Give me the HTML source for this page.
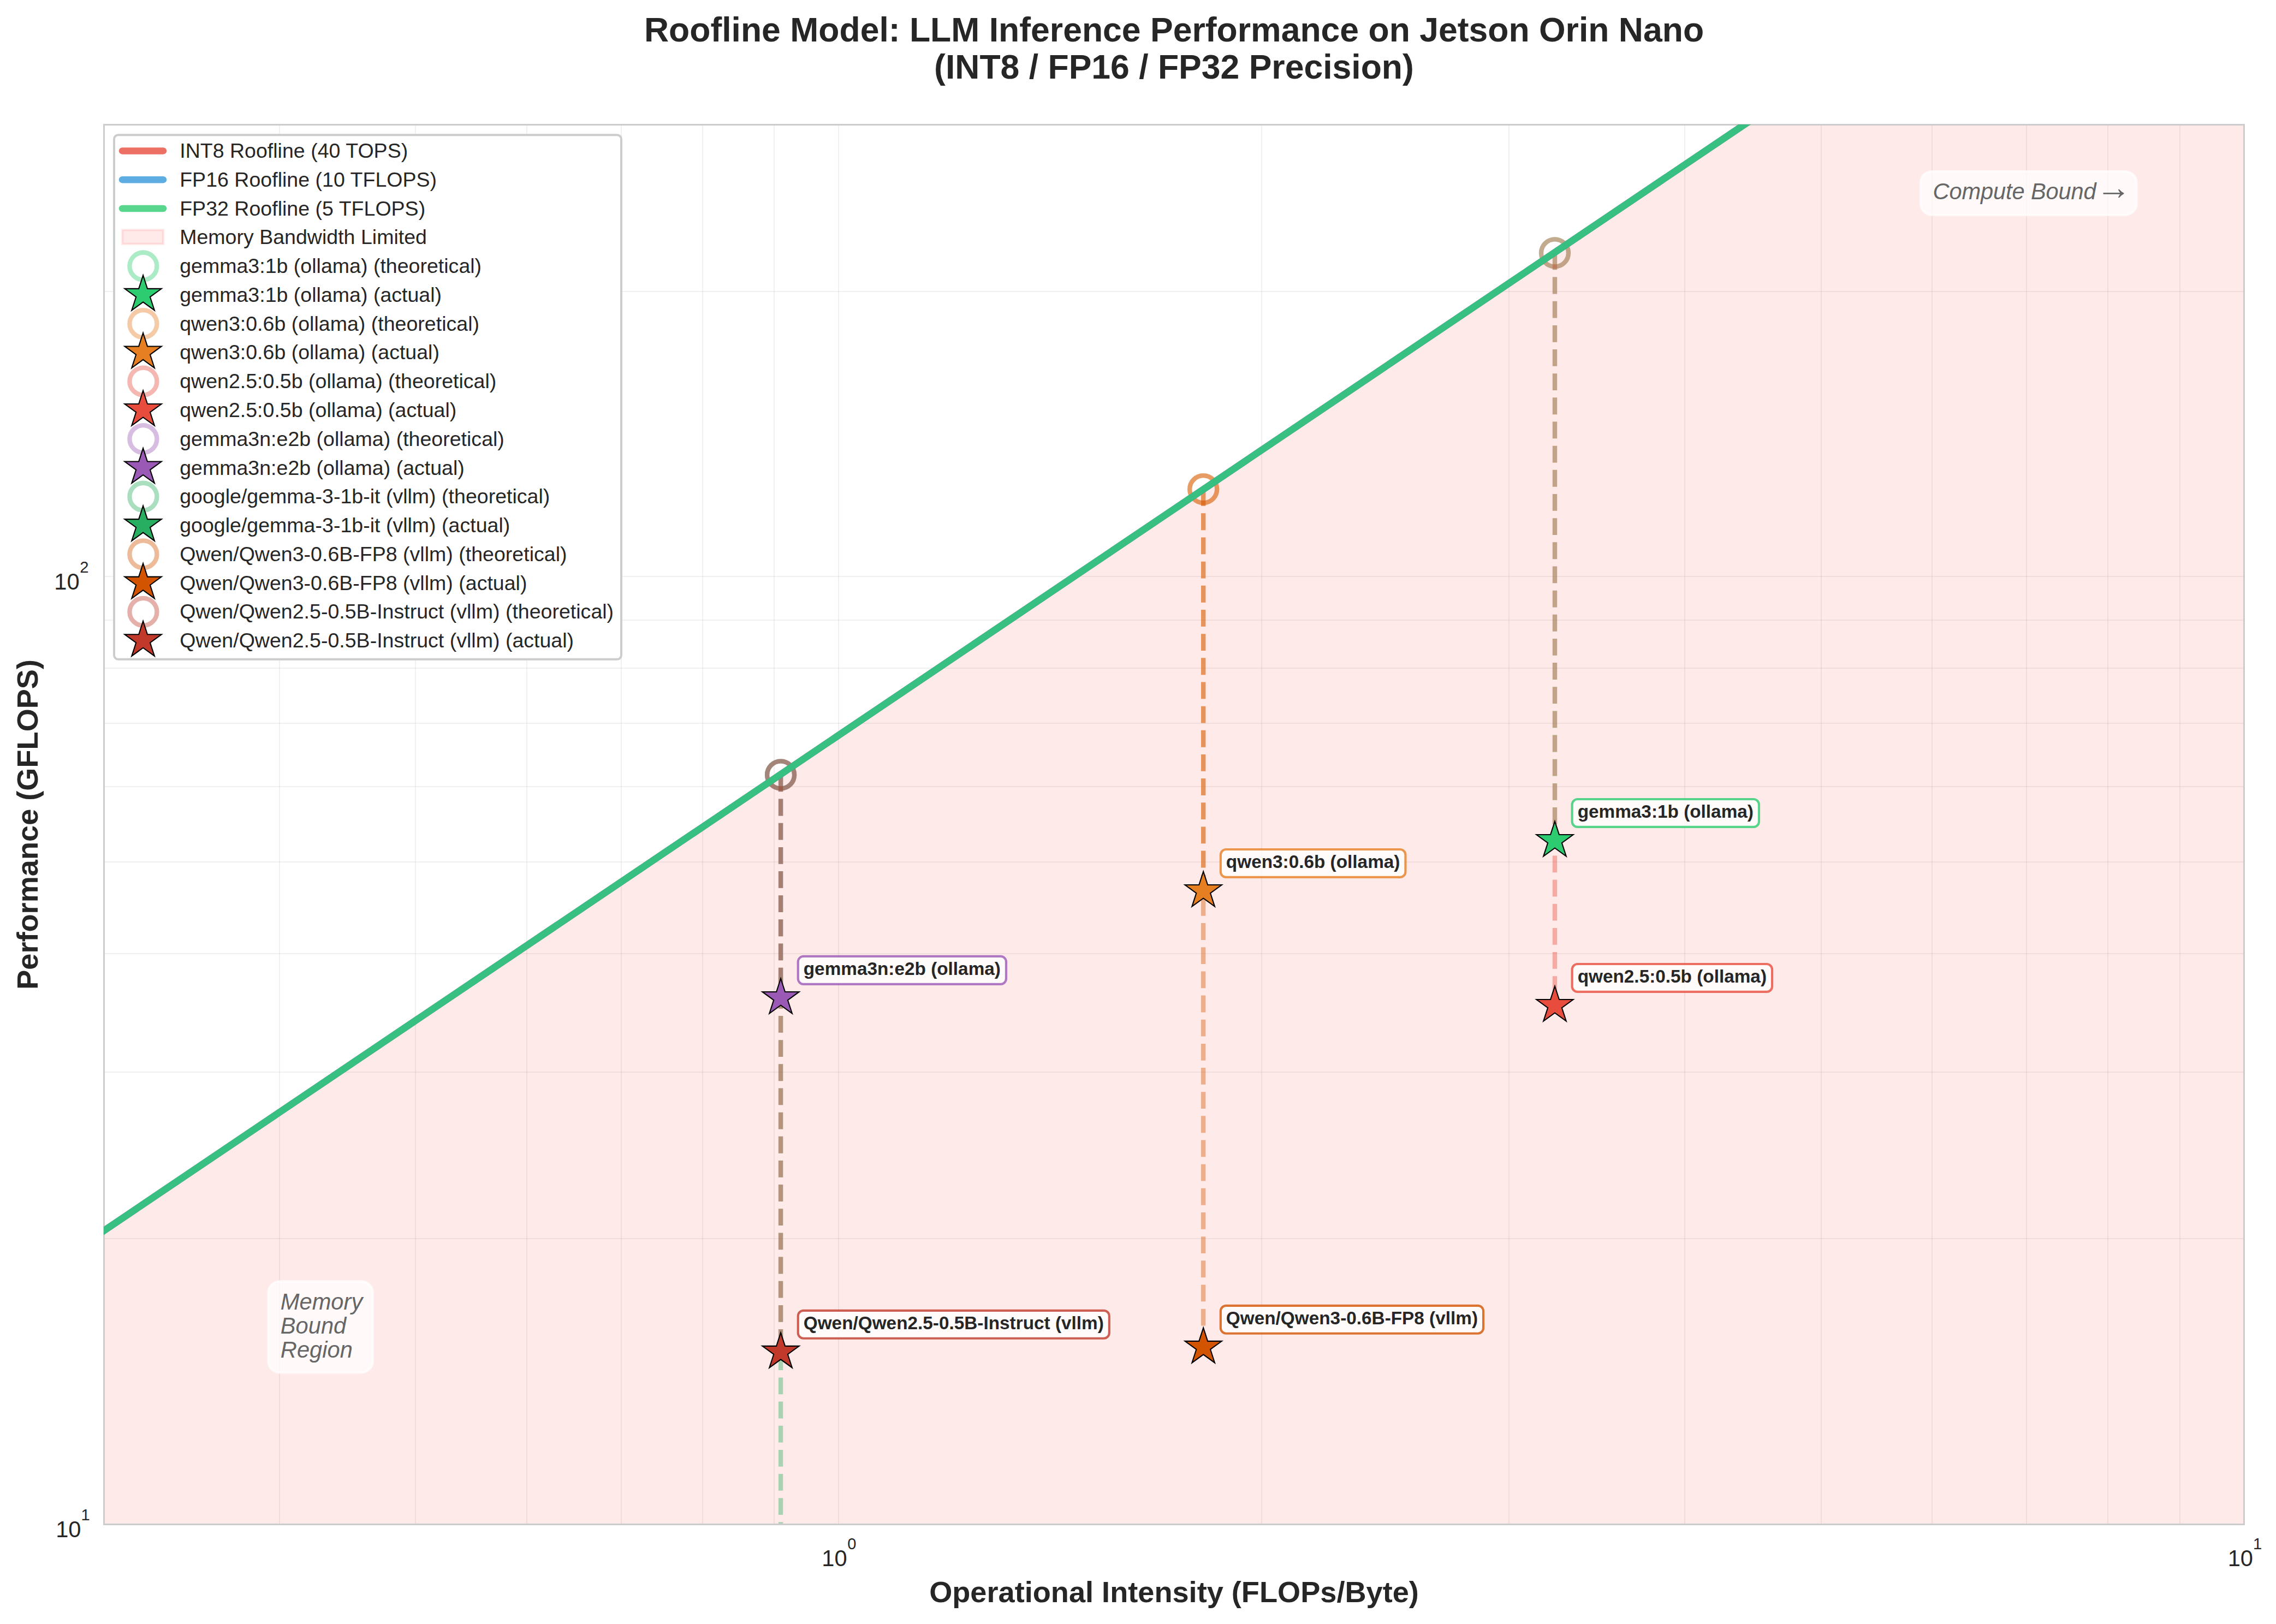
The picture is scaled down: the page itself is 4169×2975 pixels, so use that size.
<!DOCTYPE html>
<html><head><meta charset="utf-8"><title>Roofline Model</title><style>html,body{margin:0;padding:0;background:#fff}svg{display:block}</style></head><body>
<svg width="4169" height="2975" viewBox="0 0 4169 2975" font-family="'Liberation Sans', sans-serif" fill="#262626">
<defs><clipPath id="ax"><rect x="190" y="227.9" width="3920.4700000000003" height="2564.0499999999997"/></clipPath></defs>
<rect width="4169" height="2975" fill="#fff"/>
<path d="M512 227.95V2791.95M761 227.95V2791.95M965 227.95V2791.95M1138 227.95V2791.95M1287 227.95V2791.95M1418 227.95V2791.95M1536 227.95V2791.95M2311 227.95V2791.95M2764 227.95V2791.95M3086 227.95V2791.95M3336 227.95V2791.95M3539 227.95V2791.95M3712 227.95V2791.95M3861 227.95V2791.95M3993 227.95V2791.95" stroke="#ccc" stroke-opacity="0.3" stroke-width="2" fill="none"/>
<path d="M190.27 2269H4110.47M190.27 1964H4110.47M190.27 1747H4110.47M190.27 1579H4110.47M190.27 1441H4110.47M190.27 1325H4110.47M190.27 1224H4110.47M190.27 1136H4110.47M190.27 1056H4110.47M190.27 534H4110.47" stroke="#ccc" stroke-opacity="0.3" stroke-width="2" fill="none"/>
<g clip-path="url(#ax)">
<path d="M190.27 2791.95L190.27 2254.49L3195.63 227.95L4110.47 227.95L4110.47 2791.95Z" fill="#ff0000" fill-opacity="0.082"/>
<circle cx="2848.0" cy="463.4" r="25" fill="none" stroke="#2ecc71" stroke-opacity="0.4" stroke-width="8.33"/>
<path d="M2848.0 463.4V1539.5" stroke="#2ecc71" stroke-opacity="0.4" stroke-width="8.33" stroke-dasharray="30.83 13.33" fill="none"/>
<circle cx="2204.2" cy="896.2" r="25" fill="none" stroke="#e67e22" stroke-opacity="0.4" stroke-width="8.33"/>
<path d="M2204.2 896.2V1631.5" stroke="#e67e22" stroke-opacity="0.4" stroke-width="8.33" stroke-dasharray="30.83 13.33" fill="none"/>
<circle cx="2848.0" cy="463.4" r="25" fill="none" stroke="#e74c3c" stroke-opacity="0.4" stroke-width="8.33"/>
<path d="M2848.0 463.4V1841.5" stroke="#e74c3c" stroke-opacity="0.4" stroke-width="8.33" stroke-dasharray="30.83 13.33" fill="none"/>
<circle cx="1430.1" cy="1419.4" r="25" fill="none" stroke="#9b59b6" stroke-opacity="0.4" stroke-width="8.33"/>
<path d="M1430.1 1419.4V1827.4" stroke="#9b59b6" stroke-opacity="0.4" stroke-width="8.33" stroke-dasharray="30.83 13.33" fill="none"/>
<circle cx="1430.1" cy="1419.4" r="25" fill="none" stroke="#27ae60" stroke-opacity="0.4" stroke-width="8.33"/>
<path d="M1430.1 1419.4V3200.0" stroke="#27ae60" stroke-opacity="0.4" stroke-width="8.33" stroke-dasharray="30.83 13.33" fill="none"/>
<circle cx="2204.2" cy="896.2" r="25" fill="none" stroke="#d35400" stroke-opacity="0.4" stroke-width="8.33"/>
<path d="M2204.2 896.2V2467.3" stroke="#d35400" stroke-opacity="0.4" stroke-width="8.33" stroke-dasharray="30.83 13.33" fill="none"/>
<circle cx="1430.1" cy="1419.4" r="25" fill="none" stroke="#c0392b" stroke-opacity="0.4" stroke-width="8.33"/>
<path d="M1430.1 1419.4V2476.3" stroke="#c0392b" stroke-opacity="0.4" stroke-width="8.33" stroke-dasharray="30.83 13.33" fill="none"/>
</g>
<polygon points="2848.00,1504.60 2855.95,1529.06 2881.67,1529.06 2860.86,1544.18 2868.81,1568.64 2848.00,1553.52 2827.19,1568.64 2835.14,1544.18 2814.33,1529.06 2840.05,1529.06" fill="#2ecc71" stroke="#000" stroke-width="2.08" stroke-linejoin="miter"/>
<polygon points="2204.20,1596.60 2212.15,1621.06 2237.87,1621.06 2217.06,1636.18 2225.01,1660.64 2204.20,1645.52 2183.39,1660.64 2191.34,1636.18 2170.53,1621.06 2196.25,1621.06" fill="#e67e22" stroke="#000" stroke-width="2.08" stroke-linejoin="miter"/>
<polygon points="2848.00,1806.60 2855.95,1831.06 2881.67,1831.06 2860.86,1846.18 2868.81,1870.64 2848.00,1855.52 2827.19,1870.64 2835.14,1846.18 2814.33,1831.06 2840.05,1831.06" fill="#e74c3c" stroke="#000" stroke-width="2.08" stroke-linejoin="miter"/>
<polygon points="1430.10,1792.50 1438.05,1816.96 1463.77,1816.96 1442.96,1832.08 1450.91,1856.54 1430.10,1841.42 1409.29,1856.54 1417.24,1832.08 1396.43,1816.96 1422.15,1816.96" fill="#9b59b6" stroke="#000" stroke-width="2.08" stroke-linejoin="miter"/>
<polygon points="2204.20,2432.40 2212.15,2456.86 2237.87,2456.86 2217.06,2471.98 2225.01,2496.44 2204.20,2481.32 2183.39,2496.44 2191.34,2471.98 2170.53,2456.86 2196.25,2456.86" fill="#d35400" stroke="#000" stroke-width="2.08" stroke-linejoin="miter"/>
<polygon points="1430.10,2441.40 1438.05,2465.86 1463.77,2465.86 1442.96,2480.98 1450.91,2505.44 1430.10,2490.32 1409.29,2505.44 1417.24,2480.98 1396.43,2465.86 1422.15,2465.86" fill="#c0392b" stroke="#000" stroke-width="2.08" stroke-linejoin="miter"/>
<rect x="2879.67" y="1464.03" width="342.28" height="50.9" rx="10" ry="10" fill="#fff" fill-opacity="0.8" stroke="#2ecc71" stroke-opacity="0.8" stroke-width="4.17"/>
<text x="2889.67" y="1497.83" font-size="33.33" font-weight="bold">gemma3:1b (ollama)</text>
<rect x="2235.87" y="1556.03" width="338.56" height="50.9" rx="10" ry="10" fill="#fff" fill-opacity="0.8" stroke="#e67e22" stroke-opacity="0.8" stroke-width="4.17"/>
<text x="2245.87" y="1589.83" font-size="33.33" font-weight="bold">qwen3:0.6b (ollama)</text>
<rect x="2879.67" y="1766.03" width="366.35" height="50.9" rx="10" ry="10" fill="#fff" fill-opacity="0.8" stroke="#e74c3c" stroke-opacity="0.8" stroke-width="4.17"/>
<text x="2889.67" y="1799.83" font-size="33.33" font-weight="bold">qwen2.5:0.5b (ollama)</text>
<rect x="1461.77" y="1751.93" width="381.18" height="50.9" rx="10" ry="10" fill="#fff" fill-opacity="0.8" stroke="#9b59b6" stroke-opacity="0.8" stroke-width="4.17"/>
<text x="1471.77" y="1785.73" font-size="33.33" font-weight="bold">gemma3n:e2b (ollama)</text>
<rect x="2235.87" y="2391.83" width="481.17" height="50.9" rx="10" ry="10" fill="#fff" fill-opacity="0.8" stroke="#d35400" stroke-opacity="0.8" stroke-width="4.17"/>
<text x="2245.87" y="2425.63" font-size="33.33" font-weight="bold">Qwen/Qwen3-0.6B-FP8 (vllm)</text>
<rect x="1461.77" y="2400.83" width="570.06" height="50.9" rx="10" ry="10" fill="#fff" fill-opacity="0.8" stroke="#c0392b" stroke-opacity="0.8" stroke-width="4.17"/>
<text x="1471.77" y="2434.63" font-size="33.33" font-weight="bold">Qwen/Qwen2.5-0.5B-Instruct (vllm)</text>
<rect x="3518" y="314" width="395.6" height="79.7" rx="20.8" ry="20.8" fill="#fff" fill-opacity="0.7" stroke="#fff" stroke-opacity="0.7" stroke-width="4.17"/>
<text x="3540.6" y="365.2" font-size="41.67" font-style="italic" fill="#666" letter-spacing="-0.16">Compute Bound <tspan x="3839.5" font-size="64" font-style="normal">→</tspan></text>
<rect x="491.4" y="2347.4" width="191.4" height="166.9" rx="20.8" ry="20.8" fill="#fff" fill-opacity="0.7" stroke="#fff" stroke-opacity="0.7" stroke-width="4.17"/>
<text x="513.8" y="2398.8" font-size="41.67" font-style="italic" fill="#666">Memory</text>
<text x="513.8" y="2442.6" font-size="41.67" font-style="italic" fill="#666">Bound</text>
<text x="513.8" y="2486.5" font-size="41.67" font-style="italic" fill="#666">Region</text>
<rect x="190.5" y="228.5" width="3920" height="2564" fill="none" stroke="#ccc" stroke-width="3"/>
<g clip-path="url(#ax)">
<path d="M-263.02 2560.15L3539.39 -3.85" stroke="#e74c3c" stroke-opacity="0.8" stroke-width="12.5" fill="none"/>
<path d="M-263.02 2560.15L3539.39 -3.85" stroke="#3498db" stroke-opacity="0.8" stroke-width="12.5" fill="none"/>
<path d="M-263.02 2560.15L3539.39 -3.85" stroke="#2ecc71" stroke-opacity="0.8" stroke-width="12.5" fill="none"/>
</g>
<rect x="209.0" y="247.3" width="929.0" height="960.5" rx="7.5" ry="7.5" fill="#fff" fill-opacity="0.95" stroke="#ccc" stroke-width="3.9"/>
<path d="M224 276.40H299" stroke="#e74c3c" stroke-opacity="0.8" stroke-width="12.5" stroke-linecap="round" fill="none"/>
<text x="329.2" y="289.00" font-size="37.5" letter-spacing="0.02">INT8 Roofline (40 TOPS)</text>
<path d="M224 329.18H299" stroke="#3498db" stroke-opacity="0.8" stroke-width="12.5" stroke-linecap="round" fill="none"/>
<text x="329.2" y="341.78" font-size="37.5" letter-spacing="0.02">FP16 Roofline (10 TFLOPS)</text>
<path d="M224 381.96H299" stroke="#2ecc71" stroke-opacity="0.8" stroke-width="12.5" stroke-linecap="round" fill="none"/>
<text x="329.2" y="394.56" font-size="37.5" letter-spacing="0.02">FP32 Roofline (5 TFLOPS)</text>
<rect x="224.1" y="421.19" width="75" height="25.7" fill="#ff0000" fill-opacity="0.085" stroke="#ff0000" stroke-opacity="0.085" stroke-width="4.17"/>
<text x="329.2" y="447.34" font-size="37.5" letter-spacing="0.02">Memory Bandwidth Limited</text>
<circle cx="262.4" cy="487.52" r="25" fill="none" stroke="#2ecc71" stroke-opacity="0.4" stroke-width="8.33"/>
<text x="329.2" y="500.12" font-size="37.5" letter-spacing="0.02">gemma3:1b (ollama) (theoretical)</text>
<polygon points="262.10,504.40 270.05,528.86 295.77,528.86 274.96,543.98 282.91,568.44 262.10,553.32 241.29,568.44 249.24,543.98 228.43,528.86 254.15,528.86" fill="#2ecc71" stroke="#000" stroke-width="2.08"/>
<text x="329.2" y="552.90" font-size="37.5" letter-spacing="0.02">gemma3:1b (ollama) (actual)</text>
<circle cx="262.4" cy="593.08" r="25" fill="none" stroke="#e67e22" stroke-opacity="0.4" stroke-width="8.33"/>
<text x="329.2" y="605.68" font-size="37.5" letter-spacing="0.02">qwen3:0.6b (ollama) (theoretical)</text>
<polygon points="262.10,609.96 270.05,634.42 295.77,634.42 274.96,649.54 282.91,674.00 262.10,658.88 241.29,674.00 249.24,649.54 228.43,634.42 254.15,634.42" fill="#e67e22" stroke="#000" stroke-width="2.08"/>
<text x="329.2" y="658.46" font-size="37.5" letter-spacing="0.02">qwen3:0.6b (ollama) (actual)</text>
<circle cx="262.4" cy="698.64" r="25" fill="none" stroke="#e74c3c" stroke-opacity="0.4" stroke-width="8.33"/>
<text x="329.2" y="711.24" font-size="37.5" letter-spacing="0.02">qwen2.5:0.5b (ollama) (theoretical)</text>
<polygon points="262.10,715.52 270.05,739.98 295.77,739.98 274.96,755.10 282.91,779.56 262.10,764.44 241.29,779.56 249.24,755.10 228.43,739.98 254.15,739.98" fill="#e74c3c" stroke="#000" stroke-width="2.08"/>
<text x="329.2" y="764.02" font-size="37.5" letter-spacing="0.02">qwen2.5:0.5b (ollama) (actual)</text>
<circle cx="262.4" cy="804.20" r="25" fill="none" stroke="#9b59b6" stroke-opacity="0.4" stroke-width="8.33"/>
<text x="329.2" y="816.80" font-size="37.5" letter-spacing="0.02">gemma3n:e2b (ollama) (theoretical)</text>
<polygon points="262.10,821.08 270.05,845.54 295.77,845.54 274.96,860.66 282.91,885.12 262.10,870.00 241.29,885.12 249.24,860.66 228.43,845.54 254.15,845.54" fill="#9b59b6" stroke="#000" stroke-width="2.08"/>
<text x="329.2" y="869.58" font-size="37.5" letter-spacing="0.02">gemma3n:e2b (ollama) (actual)</text>
<circle cx="262.4" cy="909.76" r="25" fill="none" stroke="#27ae60" stroke-opacity="0.4" stroke-width="8.33"/>
<text x="329.2" y="922.36" font-size="37.5" letter-spacing="0.02">google/gemma-3-1b-it (vllm) (theoretical)</text>
<polygon points="262.10,926.64 270.05,951.10 295.77,951.10 274.96,966.22 282.91,990.68 262.10,975.56 241.29,990.68 249.24,966.22 228.43,951.10 254.15,951.10" fill="#27ae60" stroke="#000" stroke-width="2.08"/>
<text x="329.2" y="975.14" font-size="37.5" letter-spacing="0.02">google/gemma-3-1b-it (vllm) (actual)</text>
<circle cx="262.4" cy="1015.32" r="25" fill="none" stroke="#d35400" stroke-opacity="0.4" stroke-width="8.33"/>
<text x="329.2" y="1027.92" font-size="37.5" letter-spacing="0.02">Qwen/Qwen3-0.6B-FP8 (vllm) (theoretical)</text>
<polygon points="262.10,1032.20 270.05,1056.66 295.77,1056.66 274.96,1071.78 282.91,1096.24 262.10,1081.12 241.29,1096.24 249.24,1071.78 228.43,1056.66 254.15,1056.66" fill="#d35400" stroke="#000" stroke-width="2.08"/>
<text x="329.2" y="1080.70" font-size="37.5" letter-spacing="0.02">Qwen/Qwen3-0.6B-FP8 (vllm) (actual)</text>
<circle cx="262.4" cy="1120.88" r="25" fill="none" stroke="#c0392b" stroke-opacity="0.4" stroke-width="8.33"/>
<text x="329.2" y="1133.48" font-size="37.5" letter-spacing="0.02">Qwen/Qwen2.5-0.5B-Instruct (vllm) (theoretical)</text>
<polygon points="262.10,1137.76 270.05,1162.22 295.77,1162.22 274.96,1177.34 282.91,1201.80 262.10,1186.68 241.29,1201.80 249.24,1177.34 228.43,1162.22 254.15,1162.22" fill="#c0392b" stroke="#000" stroke-width="2.08"/>
<text x="329.2" y="1186.26" font-size="37.5" letter-spacing="0.02">Qwen/Qwen2.5-0.5B-Instruct (vllm) (actual)</text>
<text x="2150.5" y="76" font-size="62.5" font-weight="bold" text-anchor="middle">Roofline Model: LLM Inference Performance on Jetson Orin Nano</text>
<text x="2150.5" y="144.1" font-size="62.5" font-weight="bold" text-anchor="middle">(INT8 / FP16 / FP32 Precision)</text>
<text x="2150.5" y="2934.7" font-size="54.17" font-weight="bold" text-anchor="middle">Operational Intensity (FLOPs/Byte)</text>
<text transform="translate(69 1510.4) rotate(-90)" font-size="54.17" font-weight="bold" text-anchor="middle">Performance (GFLOPS)</text>
<text x="99.3" y="1079.8" font-size="41.67">10</text><text x="146.2" y="1049.4" font-size="29.17">2</text>
<text x="102.2" y="2816.2" font-size="41.67">10</text><text x="148.4" y="2785.3" font-size="29.17">1</text>
<text x="1505.3" y="2869.0" font-size="41.67">10</text><text x="1552.2" y="2838.4" font-size="29.17">0</text>
<text x="4080.7" y="2869.0" font-size="41.67">10</text><text x="4126.9" y="2838.2" font-size="29.17">1</text>
</svg>
</body></html>
